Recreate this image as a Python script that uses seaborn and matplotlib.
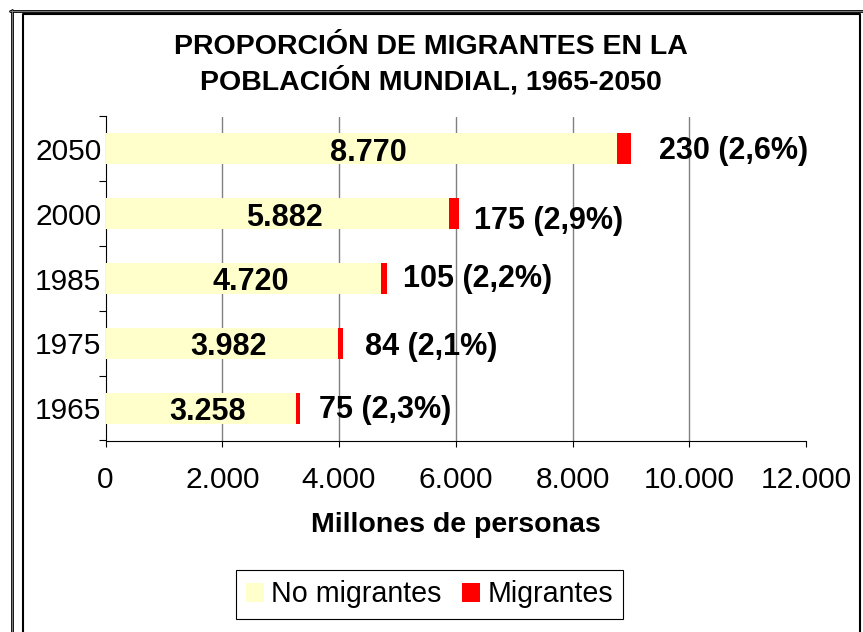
import numpy as np
import pandas as pd
import matplotlib
matplotlib.use("Agg")
import matplotlib.pyplot as plt
from matplotlib.lines import Line2D
from matplotlib.patches import Patch, Rectangle
import seaborn as sns

# ---- data ----
years = ["2050", "2000", "1985", "1975", "1965"]
no_migrantes = [8770, 5882, 4720, 3982, 3258]
migrantes = [230, 175, 105, 84, 75]
pct_migrantes = [2.6, 2.9, 2.2, 2.1, 2.3]
x_ticks = [0, 2000, 4000, 6000, 8000, 10000, 12000]

title = "PROPORCIÓN DE MIGRANTES EN LA\nPOBLACIÓN MUNDIAL, 1965-2050"
xlabel = "Millones de personas"
legend_labels = ["No migrantes", "Migrantes"]

# ---- style ----
sns.set_style("white")
plt.rcParams["font.family"] = ["Liberation Sans", "DejaVu Sans"]
for k in ["text.color", "axes.labelcolor", "xtick.color", "ytick.color"]:
    plt.rcParams[k] = "black"

W, H = 863, 632
fig = plt.figure(figsize=(W / 100, H / 100), dpi=100)


def fx(px):
    return px / W


def fy(py):
    return 1 - py / H


YELLOW = "#FFFFCC"
RED = "#FF0000"
FS_TITLE = 20.5
FS_TICK = 21.5
FS_BAR = 22
FS_LEG = 20.6

ax = fig.add_axes([fx(105.5), fy(440.5), fx(806) - fx(105.5), fy(116.5) - fy(440.5)])

df = pd.DataFrame({"year": years, "no": no_migrantes, "mig": migrantes, "pct": pct_migrantes})
df["total"] = df["no"] + df["mig"]

sns.barplot(data=df, x="total", y="year", order=years, orient="h", color=RED,
            saturation=1, width=0.48, errorbar=None, linewidth=0, ax=ax, zorder=2)
sns.barplot(data=df, x="no", y="year", order=years, orient="h", color=YELLOW,
            saturation=1, width=0.48, errorbar=None, linewidth=0, ax=ax, zorder=3)

for t in x_ticks[1:-1]:
    ax.axvline(t, color="#808080", lw=1, zorder=1)


def fmt_thousands(v):
    return f"{v:,}".replace(",", ".")


out_dx = [28, 15, 16, 22, 19]
out_dy = [-2, -7, -1, -4, -2]
for i, row in df.iterrows():
    ax.annotate(fmt_thousands(row["no"]), xy=(row["no"] / 2, i), xytext=(7, -4),
                textcoords="offset pixels", ha="center", va="center",
                fontsize=FS_BAR, fontweight="bold", zorder=4)
    lab = f"{row['mig']} ({row['pct']:.1f}%)".replace(".", ",")
    ax.annotate(lab, xy=(row["total"], i), xytext=(out_dx[i], out_dy[i]),
                textcoords="offset pixels", ha="left", va="center",
                fontsize=FS_BAR, fontweight="bold", zorder=4)

ax.set_xlim(0, 12000)
ax.set_ylim(4.5, -0.5)
ax.set_xticks(x_ticks)
ax.set_xticklabels([fmt_thousands(t) for t in x_ticks], fontsize=FS_TICK)
ax.set_yticks(range(len(years)))
ax.set_yticklabels(years, fontsize=FS_TICK)
ax.set_yticks(np.arange(-0.5, len(years), 1), minor=True)
ax.grid(False)

ax.tick_params(axis="x", which="major", direction="out", length=4.3, width=0.8,
               color="black", pad=14, bottom=True)
ax.tick_params(axis="y", which="major", length=0, pad=3, left=True)
ax.tick_params(axis="y", which="minor", direction="out", length=5, width=0.8,
               color="black", left=True)

for s in ["top", "right"]:
    ax.spines[s].set_visible(False)
for s in ["left", "bottom"]:
    ax.spines[s].set_color("black")
    ax.spines[s].set_linewidth(0.8)

ax.set_xlabel(xlabel, fontsize=FS_TITLE, fontweight="bold", labelpad=13)
ax.set_ylabel("")

fig.text(fx(431), fy(65), title, ha="center", va="center", fontsize=FS_TITLE,
         fontweight="bold", linespacing=1.24)

handles = [Patch(facecolor=YELLOW, edgecolor="none", label=legend_labels[0]),
           Patch(facecolor=RED, edgecolor="none", label=legend_labels[1])]
leg = fig.legend(handles=handles, loc="center", bbox_to_anchor=(fx(429.5), fy(594.5)),
                 ncol=2, frameon=True, fancybox=False, edgecolor="black", fontsize=FS_LEG,
                 handlelength=0.65, handleheight=0.65, handletextpad=0.25,
                 columnspacing=0.7, borderpad=0.35, borderaxespad=0)
leg.get_frame().set_linewidth(0.8)
leg.get_frame().set_alpha(None)

# clip area right of the inner frame
fig.add_artist(Rectangle((fx(860), 0), 1 - fx(860), 1, transform=fig.transFigure,
                         facecolor="white", edgecolor="none", zorder=5))

# outer frame (top and left)
fig.add_artist(Line2D([fx(10), 1], [fy(10.5), fy(10.5)], transform=fig.transFigure,
                      color="black", lw=2.0, zorder=6))
fig.add_artist(Line2D([fx(10), 1], [fy(10.5), fy(10.5)], transform=fig.transFigure,
                      color="#909090", lw=0.6, zorder=7))
fig.add_artist(Line2D([fx(11.5), fx(11.5)], [fy(10), 0], transform=fig.transFigure,
                      color="black", lw=2.0, zorder=6))
fig.add_artist(Line2D([fx(11.5), fx(11.5)], [fy(10), 0], transform=fig.transFigure,
                      color="#909090", lw=0.6, zorder=7))
# inner frame
fig.add_artist(Line2D([fx(22.5), fx(22.5), fx(860), fx(860)],
                      [0, fy(13.5), fy(13.5), 0], transform=fig.transFigure,
                      color="black", lw=1.5, zorder=6))

fig.savefig("out.png", dpi=100)
